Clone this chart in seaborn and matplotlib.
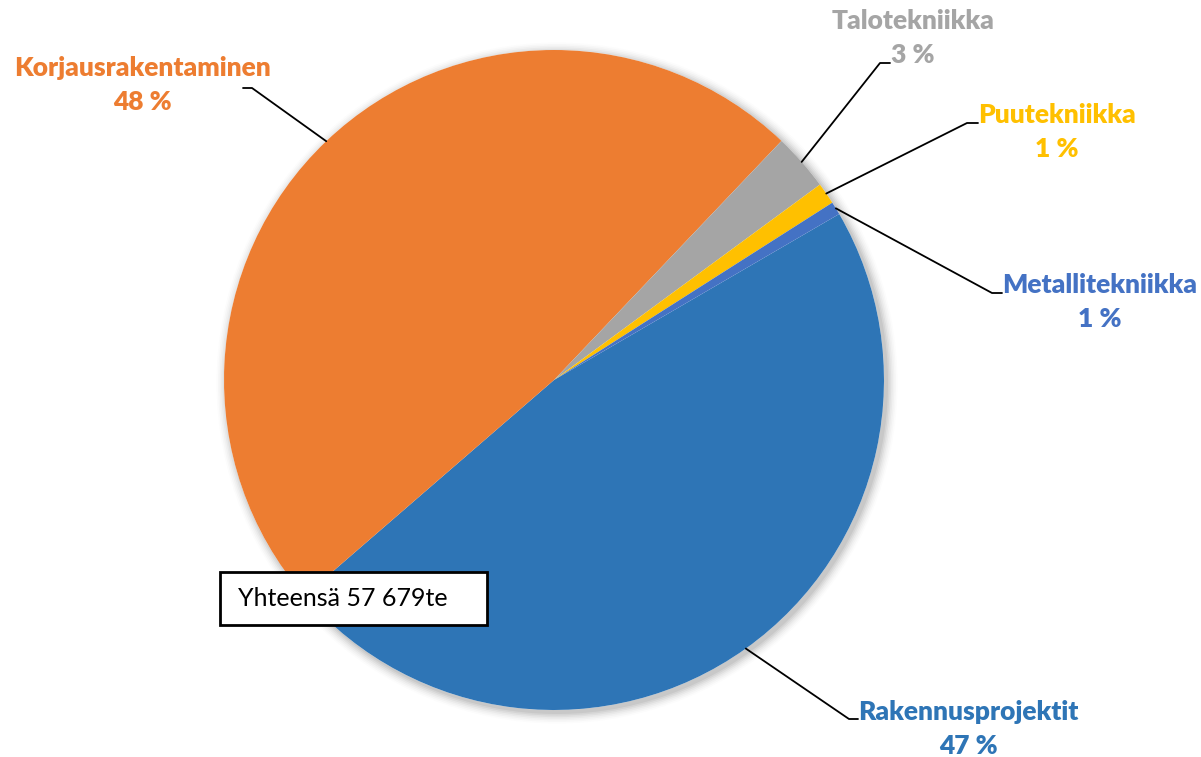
import matplotlib
matplotlib.use("Agg")
import matplotlib.pyplot as plt
import seaborn as sns
import numpy as np
from matplotlib.patches import Rectangle, Circle

sns.set_theme(style="white")
plt.rcParams['font.family'] = ['Lato', 'DejaVu Sans']

categories = ["Rakennusprojektit", "Korjausrakentaminen", "Talotekniikka", "Puutekniikka", "Metallitekniikka"]
values = [27130, 27950, 1620, 610, 369]
colors = ["#2E75B6", "#ED7D31", "#A5A5A5", "#FFC000", "#4472C4"]
total_label = "Yhteensä 57 679te"

W, H = 1201, 757
fig = plt.figure(figsize=(W / 100, H / 100), dpi=100)
ax = fig.add_axes([0, 0, 1, 1])
ax.set_xlim(0, W)
ax.set_ylim(0, H)
ax.axis("off")

cx, cy, R = 554, H - 380, 330

# soft shadow
for i, a in enumerate(np.linspace(0.05, 0.012, 7)):
    ax.add_patch(Circle((cx + 3, cy - 3), R + 1 + i * 1.6, color="black", alpha=a, lw=0, zorder=0))
ax.add_patch(Circle((cx, cy), R, color="white", lw=0, zorder=0.5))

wedges, _ = ax.pie(values, colors=colors, startangle=30.2, counterclock=False,
                   center=(cx, cy), radius=R, frame=True,
                   wedgeprops=dict(linewidth=0))
ax.set_xlim(0, W)
ax.set_ylim(0, H)
ax.axis("off")

# label layout (pixel positions, y from top): text centre, elbow start, elbow end
label_pos = [(968, 729), (142, 85), (913, 38), (1057, 132), (1100, 302)]
elbow = [((858, 719), (849, 719)), ((243, 88), (252, 88)), ((890, 63), (880, 63)),
         ((978, 123), (967, 123)), ((1002, 293), (992, 293))]

tot = sum(values)
for w, cat, v, col, (lx, ly), (e0, e1) in zip(wedges, categories, values, colors, label_pos, elbow):
    mid = np.deg2rad((w.theta1 + w.theta2) / 2)
    px, py = cx + R * np.cos(mid), cy + R * np.sin(mid)
    ax.plot([e0[0], e1[0], px], [H - e0[1], H - e1[1], py], color="black", lw=1.3, zorder=3)
    pct = round(v / tot * 100)
    ax.text(lx, H - ly, f"{cat}\n{pct} %", color=col, fontsize=19, fontweight="heavy",
            ha="center", va="center", linespacing=1.5, zorder=4)

# total box
ax.add_patch(Rectangle((220, H - 625), 267, 53, facecolor="white", edgecolor="black", lw=2, zorder=5))
ax.text(238, H - 599, total_label, fontsize=18, ha="left", va="center", color="black", zorder=6)

fig.savefig("out.png", dpi=100)
